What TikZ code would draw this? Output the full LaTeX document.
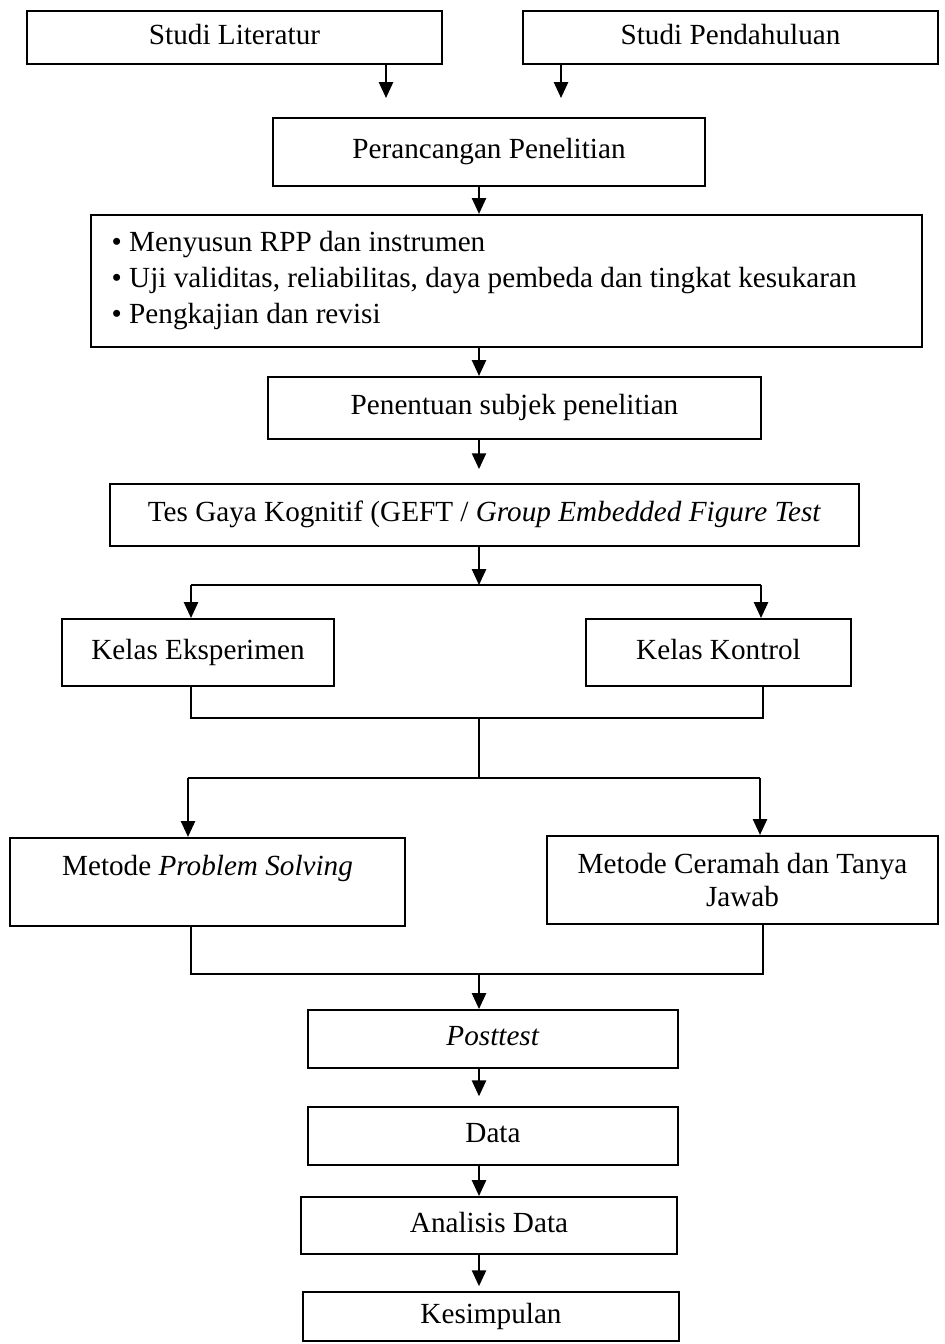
\documentclass[tikz,border=0pt]{standalone}
\usepackage{fontspec}
\setmainfont{Liberation Serif}
\usetikzlibrary{arrows.meta}

\begin{document}
\begin{tikzpicture}[
    x=0.411pt, y=-0.411pt,
    frame/.style={rectangle, draw, line width=0.85pt, inner sep=2pt, align=center, font=\fontsize{12}{13.8}\selectfont},
    box/.style={frame, text height=8.2pt, text depth=2.5pt},
    arrow/.style={-{Triangle[length=6.5pt, width=5.8pt]}, line width=0.8pt},
    line/.style={line width=0.7pt}
  ]
    \useasboundingbox (0,0) rectangle (944,1344);
    \node[box, minimum width=170.6pt, minimum height=21.8pt] (lit) at (234.5,37.5) {Studi Literatur};
    \node[box, minimum width=170.6pt, minimum height=21.8pt] (pend) at (730.5,37.5) {Studi Pendahuluan};
    \node[box, minimum width=177.6pt, minimum height=27.9pt] (rancang) at (489,152) {Perancangan Penelitian};
    \node[frame, align=flush left, text width=324.5pt, inner xsep=8.5pt, minimum height=54.3pt, font=\fontsize{12}{14.8}\selectfont] (list) at (506.5,281)
      {\textbullet\hspace{3pt}Menyusun RPP dan instrumen\\
       \textbullet\hspace{3pt}Uji validitas, reliabilitas, daya pembeda dan tingkat kesukaran\\
       \textbullet\hspace{3pt}Pengkajian dan revisi};
    \node[box, minimum width=202.6pt, minimum height=25.5pt] (subjek) at (514.5,408) {Penentuan subjek penelitian};
    \node[box, minimum width=307.8pt, minimum height=25.5pt] (gaya) at (484.5,515) {Tes Gaya Kognitif (GEFT / \textit{Group Embedded Figure Test}};
    \node[box, minimum width=111.8pt, minimum height=27.5pt] (eksp) at (198,652.5) {Kelas Eksperimen};
    \node[box, minimum width=108.9pt, minimum height=27.5pt] (kontrol) at (718.5,652.5) {Kelas Kontrol};
    \node[frame, minimum width=162.3pt, minimum height=36.2pt] (ps) at (207.5,882) {Metode \textit{Problem Solving}\\\mbox{}};
    \node[frame, minimum width=160.7pt, minimum height=36.2pt] (ceramah) at (742.5,880) {Metode Ceramah dan Tanya\\Jawab};
    \node[box, minimum width=152.1pt, minimum height=23.8pt] (post) at (493,1039) {\textit{Posttest}};
    \node[box, minimum width=152.1pt, minimum height=23.8pt] (data) at (493,1136) {Data};
    \node[box, minimum width=154.5pt, minimum height=23.4pt] (analisis) at (489,1225.5) {Analisis Data};
    \node[box, minimum width=154.5pt, minimum height=20.1pt] (simpul) at (491,1316.5) {Kesimpulan};

    \coordinate (axis) at (479,0);
    \coordinate (a1) at (386,98);
    \coordinate (a2) at (561,98);
    \coordinate (sl) at (191,585);
    \coordinate (sr) at (761,585);
    \coordinate (jl) at (191,718);
    \coordinate (jr) at (763,718);
    \coordinate (ml) at (188,778);
    \coordinate (mr) at (760,778);
    \coordinate (kl) at (191,974);
    \coordinate (kr) at (763,974);

    \draw[arrow] (lit.south -| a1) -- (a1);
    \draw[arrow] (pend.south -| a2) -- (a2);
    \draw[arrow] (rancang.south -| axis) -- (list.north -| axis);
    \draw[arrow] (list.south -| axis) -- (subjek.north -| axis);
    \draw[arrow, shorten >=5.7pt] (subjek.south -| axis) -- (gaya.north -| axis);
    \draw[arrow] (gaya.south -| axis) -- (axis |- sl);
    \draw[line] (sl) -- (sr);
    \draw[arrow] (sl) -- (eksp.north -| sl);
    \draw[arrow] (sr) -- (kontrol.north -| sr);
    \draw[line] (eksp.south -| jl) -- (jl) -- (jr) -- (kontrol.south -| jr);
    \draw[line] (axis |- jl) -- (axis |- ml);
    \draw[line] (ml) -- (mr);
    \draw[arrow] (ml) -- (ps.north -| ml);
    \draw[arrow] (mr) -- (ceramah.north -| mr);
    \draw[line] (ps.south -| kl) -- (kl) -- (kr) -- (ceramah.south -| kr);
    \draw[arrow] (axis |- kl) -- (post.north -| axis);
    \draw[arrow, shorten >=4pt] (post.south -| axis) -- (data.north -| axis);
    \draw[arrow] (data.south -| axis) -- (analisis.north -| axis);
    \draw[arrow, shorten >=2pt] (analisis.south -| axis) -- (simpul.north -| axis);
  \end{tikzpicture}
\end{document}
